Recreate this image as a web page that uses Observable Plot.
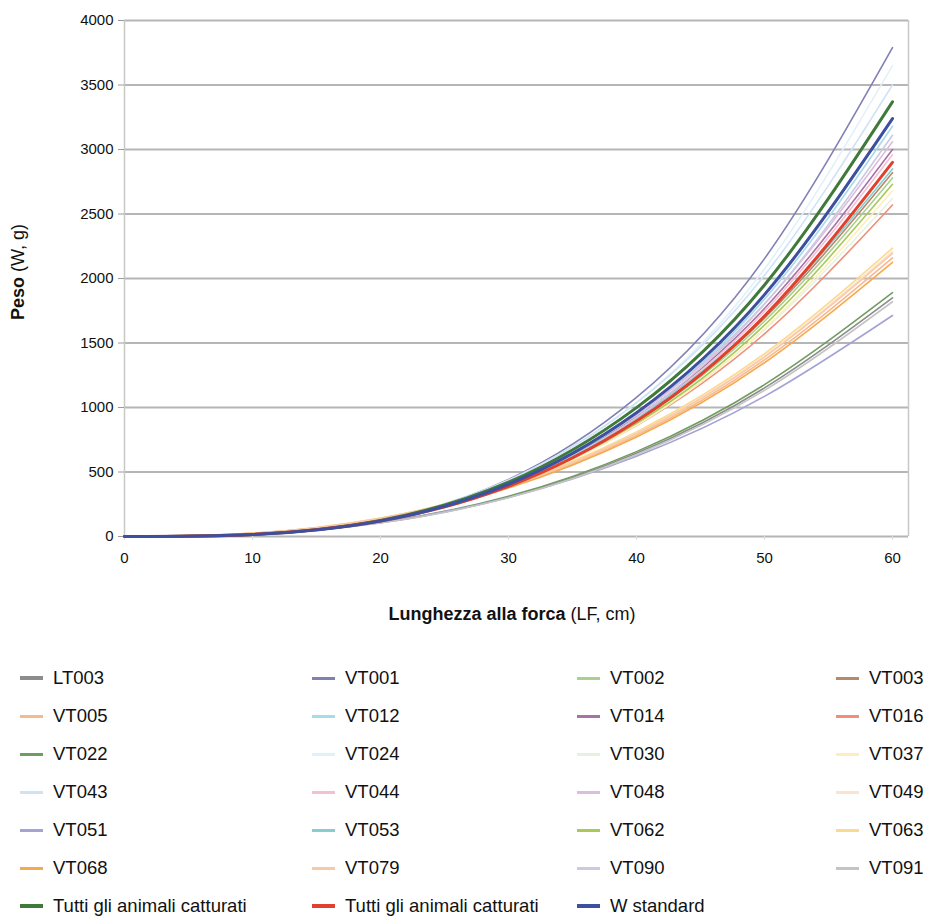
<!DOCTYPE html>
<html><head><meta charset="utf-8">
<script src="https://cdn.jsdelivr.net/npm/d3@7"></script>
<script src="https://cdn.jsdelivr.net/npm/@observablehq/plot@0.6"></script>
<style>
body{margin:0;background:#fff;font-family:"Liberation Sans",Arial,sans-serif;}
#legend{display:grid;grid-template-columns:292px 265px 259px 89px;margin-left:20px;margin-top:9px;}
.item{height:38px;display:flex;align-items:center;font-size:18.5px;color:#111;white-space:nowrap;}
.sw{width:23px;height:3px;margin-right:10px;flex:none;}
</style></head><body><div id="chart"></div><div id="legend"></div>
<script>
// Lunghezza alla forca (cm) sample positions
const lengths = [0, 10, 20, 30, 40, 50, 60];
const seriesNames = ["LT003","VT001","VT002","VT003","VT005","VT012","VT014","VT016","VT022","VT024","VT030","VT037","VT043","VT044","VT048","VT049","VT051","VT053","VT062","VT063","VT068","VT079","VT090","VT091","Tutti gli animali catturati","Tutti gli animali catturati","W standard"];
// Peso (g) read at each length
const lt003 = [0, 17.5, 106, 305, 645, 1152, 1850];
const vt001 = [0, 14.7, 126, 442, 1078, 2154, 3790];
const vt002 = [0, 18.4, 128, 399, 893, 1669, 2780];
const vt003 = [0, 18.7, 130, 405, 906, 1693, 2820];
const vt005 = [0, 24.5, 139, 382, 784, 1369, 2160];
const vt012 = [0, 14.7, 118, 398, 942, 1840, 3180];
const vt014 = [0, 16.6, 124, 402, 926, 1768, 3000];
const vt016 = [0, 20.4, 132, 396, 860, 1571, 2570];
const vt022 = [0, 17.9, 109, 312, 658, 1177, 1890];
const vt024 = [0, 14.1, 121, 426, 1038, 2074, 3650];
const vt030 = [0, 20.8, 135, 403, 877, 1602, 2620];
const vt037 = [0, 17.8, 124, 385, 861, 1609, 2680];
const vt043 = [0, 16.2, 130, 438, 1037, 2025, 3500];
const vt044 = [0, 16.4, 122, 397, 913, 1745, 2960];
const vt048 = [0, 17.0, 126, 410, 944, 1804, 3060];
const vt049 = [0, 25.1, 142, 391, 802, 1401, 2210];
const vt051 = [0, 19.4, 110, 303, 622, 1086, 1713];
const vt053 = [0, 18.9, 131, 409, 916, 1711, 2850];
const vt062 = [0, 18.1, 126, 392, 877, 1639, 2730];
const vt063 = [0, 25.3, 143, 395, 811, 1417, 2235];
const vt068 = [0, 24.1, 136, 376, 771, 1347, 2125];
const vt079 = [0, 24.9, 141, 388, 797, 1391, 2195];
const vt090 = [0, 14.4, 115, 389, 921, 1800, 3110];
const vt091 = [0, 17.3, 105, 300, 634, 1133, 1820];
const tuttiVerde = [0, 15.6, 125, 421, 999, 1950, 3370];
const tuttiRosso = [0, 16.1, 120, 389, 895, 1709, 2900];
const wStandard = [0, 15.0, 120, 405, 960, 1875, 3240];
const seriesValues = [lt003, vt001, vt002, vt003, vt005, vt012, vt014, vt016, vt022, vt024, vt030, vt037, vt043, vt044, vt048, vt049, vt051, vt053, vt062, vt063, vt068, vt079, vt090, vt091, tuttiVerde, tuttiRosso, wStandard];
const xTicks = [0, 10, 20, 30, 40, 50, 60];
const yTicks = [0, 500, 1000, 1500, 2000, 2500, 3000, 3500, 4000];

const palette = ["#8c8c8c","#8080b6","#a9d18e","#b9876a","#f7b98f","#a6dbea","#a673a8","#ef8f78","#719c60","#e2f1f9","#e6f2e0","#fcefbb","#d0e3f4","#f5c0d2","#dcbddf","#fae3d0","#a3a3d6","#86cdd0","#a9c957","#fbd98f","#f7a94d","#f8c9a5","#cccae0","#c4c4c4","#3f7a3a","#e0412f","#3d4f9e"];
const thick = new Set([24, 25, 26]);

const ids = seriesNames.map((n, i) => i);
const rows = [];
seriesValues.forEach((vals, i) => vals.forEach((w, j) => rows.push({id: i, L: lengths[j], W: w})));

const grid = "#b5b5b5";
const plot = Plot.plot({
  width: 925, height: 650,
  marginLeft: 124, marginRight: 17, marginTop: 20, marginBottom: 114,
  style: {fontFamily: '"Liberation Sans", Arial, sans-serif', fontSize: "15px", color: "#111", background: "#fff"},
  x: {domain: [0, 61.25]},
  y: {domain: [0, 4000]},
  color: {domain: ids, range: palette},
  marks: [
    Plot.ruleY(yTicks, {stroke: grid, strokeWidth: 2}),
    Plot.ruleX([0, 61.25], {stroke: "#c8c8c8", strokeWidth: 1.5}),
    Plot.axisY({ticks: yTicks, tickSize: 6, tickPadding: 5, label: null, stroke: "#999", tickFormat: d => String(d)}),
    Plot.axisX({ticks: xTicks, tickSize: 4, tickPadding: 12, label: null, stroke: "#ddd"}),
    Plot.line(rows.filter(r => !thick.has(r.id)), {x: "L", y: "W", z: "id", stroke: "id", strokeWidth: 1.6, curve: "natural"}),
    Plot.line(rows.filter(r => thick.has(r.id)), {x: "L", y: "W", z: "id", stroke: "id", strokeWidth: 3, curve: "natural"})
  ]
});
document.getElementById("chart").appendChild(plot);

const svg = d3.select(plot);
const yt = svg.append("text").attr("transform", "translate(24,272) rotate(-90)").attr("text-anchor", "middle")
  .style("font-size", "18px").attr("fill", "#111");
yt.append("tspan").attr("font-weight", "bold").text("Peso");
yt.append("tspan").text(" (W, g)");
const xt = svg.append("text").attr("x", 512).attr("y", 620).attr("text-anchor", "middle")
  .style("font-size", "18px").attr("fill", "#111");
xt.append("tspan").attr("font-weight", "bold").text("Lunghezza alla forca");
xt.append("tspan").text(" (LF, cm)");

const legend = d3.select("#legend");
seriesNames.forEach((name, i) => {
  const it = legend.append("div").attr("class", "item");
  it.append("div").attr("class", "sw").style("background", palette[i]).style("height", (thick.has(i) || i === 0) ? "4px" : "3px");
  it.append("span").text(name);
});
</script></body></html>
